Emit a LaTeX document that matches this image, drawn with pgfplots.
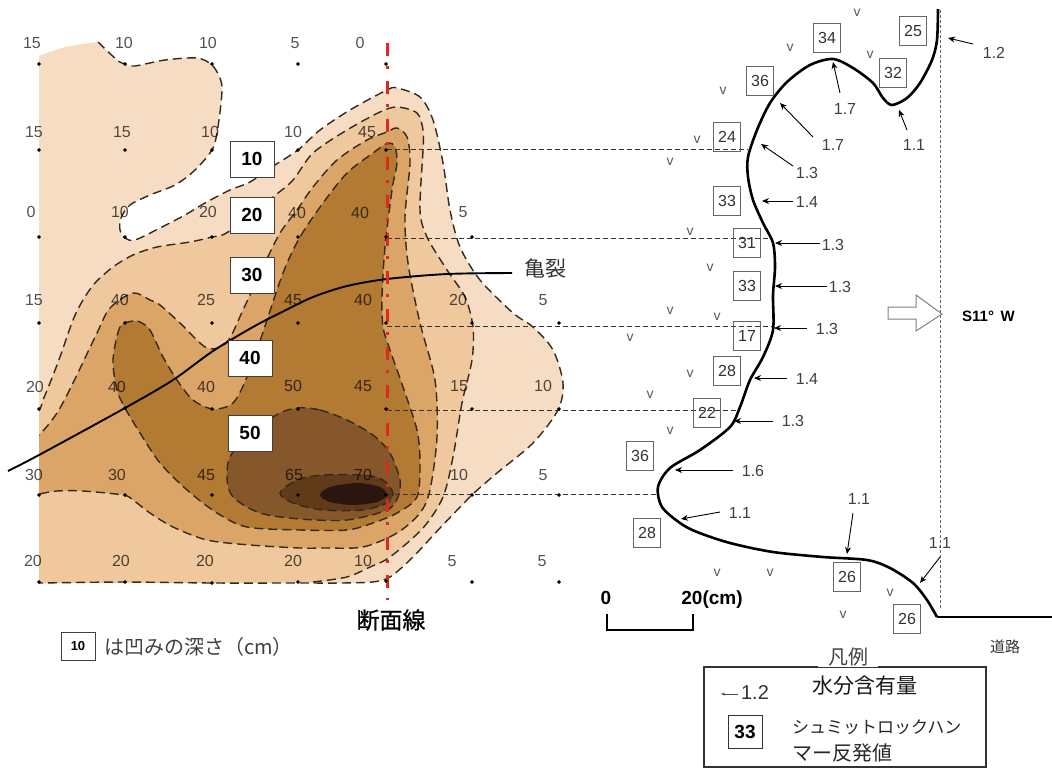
\documentclass[border=0pt]{standalone}
\usepackage{fontspec}
\usepackage{pgfplots}
\usepackage{pgfplotstable}
\pgfplotsset{compat=1.18}
\usetikzlibrary{arrows.meta}
\setmainfont{Liberation Sans}
\newfontfamily\cjk{Noto Sans CJK JP}
\newfontfamily\cjkm[FakeBold=0.7]{Noto Sans CJK JP}
\newcommand\sz[1]{\fontsize{#1}{#1}\selectfont}

\definecolor{la}{HTML}{F7DCC4}
\definecolor{lb}{HTML}{F0C89E}
\definecolor{lc}{HTML}{DBA568}
\definecolor{ld}{HTML}{B37A33}
\definecolor{le}{HTML}{85572A}
\definecolor{lf}{HTML}{5F3B1A}
\definecolor{lg}{HTML}{2B1510}
\definecolor{cdash}{HTML}{35291C}
\definecolor{redline}{HTML}{DE2A1C}

% contour 10 and contour 20, dashed part only
\pgfplotstableread{
x y
98 42
117 60
125 64
135 66
165 60
197 58
212 65
220 78
222 90
219 120
213 148
195 170
175 185
150 195
130 205
121 218
120 230
125 238
135 240
160 228
185 215
205 203
230 190
250 182
275 165
298 150
320 130
350 110
387 90
397 88
420 97
433 120
443 163
450 210
460 247
480 280
513 313
533 327
553 350
563 383
558 410
533 443
497 473
472 495
440 528
413 557
390 577
372 582
340 583
298 583
213 583
123 582
39 583
20 583
}\contourA
\pgfplotstableread{
x y
313 582
347 577
370 567
390 557
423 528
443 497
453 457
462 403
472 360
473 327
465 297
447 270
427 237
420 210
423 150
423 130
417 113
397 107
380 112
347 130
313 153
293 180
273 197
228 232
212 237
190 242
157 247
133 255
113 267
95 283
83 300
73 320
60 357
50 383
43 400
39 410
20 430
}\contourB

\newcommand\val[3]{\node[font=\sz{16}, text=black, text opacity=0.68] at (axis cs:#1,#2) {#3};}
\newcommand\boxa[3]{\node[draw=black!75, fill=white, line width=1pt, minimum width=44pt, minimum height=36pt, inner sep=0pt, font=\sz{19}\bfseries] at (axis cs:#1,#2) {#3};}
\newcommand\boxb[3]{\node[draw=black!60, line width=1pt, minimum width=27pt, minimum height=29pt, inner sep=0pt, font=\sz{16}, text=black!80] at (axis cs:#1,#2) {#3};}
\newcommand\arr[7]{% tail, head, label
  \addplot[black, line width=0.9pt, -{Stealth[length=7pt,width=6pt]}] coordinates {(#1,#2) (#3,#4)};
  \node[font=\sz{16}, text=black!75] at (axis cs:#5,#6) {#7};}

\begin{document}
\begin{tikzpicture}
\begin{axis}[
  scale only axis, width=1052pt, height=769pt,
  xmin=0, xmax=1052, ymin=0, ymax=769, y dir=reverse,
  hide axis, clip=true,
  contour/.style={cdash, line width=1.4pt, dash pattern=on 9pt off 5pt},
  sect/.style={black!80, line width=1pt, dash pattern=on 5pt off 3pt},
]
\addplot[fill=white, draw=none] coordinates {(0,0) (1052,0) (1052,769) (0,769)} --cycle;

% contour fills, outermost first
\addplot[fill=la, draw=none] coordinates {(20,583) (20,62) (39,56) (52,51) (65,47) (82,44) (98,42) (112,250) (60,583)} --cycle;
\addplot[fill=la, draw=none, smooth] table {\contourA};
\addplot[fill=lb, draw=none] coordinates {(20,430) (20,583) (213,583) (313,582) (200,480)} --cycle;
\addplot[fill=lb, draw=none, smooth] table {\contourB};
\addplot[contour, smooth] table {\contourA};
\addplot[contour, smooth] table {\contourB};
\addplot[contour, fill=lc, smooth] coordinates {
 (20,447) (39,435) (57,413) (73,383) (97,333) (110,308) (133,293) (150,300) (160,305) (180,323) (207,348) (227,342)
 (243,310) (263,267) (280,233) (297,210) (313,187) (337,160) (367,140) (387,132) (397,128) (407,137) (410,163) (405,217)
 (408,263) (420,323) (435,380) (437,437) (430,490) (420,513) (397,533) (363,547) (323,548) (300,548) (250,545) (207,540)
 (173,527) (150,513) (133,500) (123,495) (83,491) (57,491) (39,494) (20,497)};
\addplot[contour, fill=ld, smooth cycle] coordinates {
 (133,321) (120,327) (113,360) (117,390) (125,408) (140,433) (160,463) (187,490) (217,513) (247,527) (300,530) (347,530)
 (373,523) (397,513) (417,497) (420,463) (417,430) (403,387) (390,350) (383,327) (382,297) (385,247) (392,190) (397,163)
 (395,147) (388,143) (373,153) (347,173) (323,203) (300,237) (283,273) (262,335) (247,377) (233,403) (213,409) (193,400)
 (177,380) (163,357) (150,330) (140,322)};
\addplot[contour, fill=le, smooth cycle] coordinates {
 (297,408) (320,410) (347,420) (373,435) (390,453) (400,480) (398,497) (387,510) (347,520) (300,519) (260,513) (233,497)
 (227,477) (233,452) (273,417)};
\addplot[contour, fill=lf, smooth cycle] coordinates {
 (280,493) (297,480) (323,475) (363,475) (383,480) (393,493) (387,503) (363,510) (323,510) (293,503)};
\addplot[draw=none, fill=lg, smooth cycle] coordinates {
 (320,495) (330,487) (357,483) (380,487) (387,495) (377,502) (353,505) (330,502)};

% white mask left of the grid
\addplot[fill=white, draw=none] coordinates {(0,30) (38.5,30) (38.5,600) (0,600)} --cycle;

% section lines
\addplot[sect] coordinates {(387,149) (748,149)};
\addplot[sect] coordinates {(387,238) (773,238)};
\addplot[sect] coordinates {(387,326) (772,326)};
\addplot[sect] coordinates {(387,410) (737,410)};
\addplot[sect] coordinates {(387,494) (658,494)};
\addplot[black!60, line width=0.9pt, dash pattern=on 3pt off 2pt] coordinates {(940,10) (940,608)};

% crack
\addplot[black, line width=1.9pt, smooth] coordinates {
 (8,471) (39,455) (125,408) (173,380) (213,351) (253,327) (280,313) (313,297) (347,286) (387,279) (447,274) (512,273)};

% section line
\addplot[redline, line width=3pt, dash pattern=on 13pt off 10pt on 3pt off 12pt] coordinates {(387,43) (387,600)};

% grid points
\addplot[only marks, mark=*, mark size=1.6pt, black] coordinates {
 (39,64) (39,150) (39,237) (39,323) (39,409) (39,495) (39,582)
 (125,64) (125,150) (125,237) (125,323) (125,408) (125,495) (125,582)
 (212,64) (212,150) (212,237) (212,323) (212,409) (212,495) (212,583)
 (298,64) (298,150) (298,237) (298,323) (298,409) (298,495) (298,582)
 (386,64) (386,150) (386,237) (386,323) (386,409) (386,495) (386,581)
 (472,237) (472,323) (472,409) (472,495) (472,582)
 (559,323) (559,409) (559,495) (559,582)};

% depth values
\val{32}{43}{15}\val{124}{43}{10}\val{208}{43}{10}\val{295}{43}{5}\val{360}{43}{0}
\val{34}{132}{15}\val{122}{132}{15}\val{210}{132}{10}\val{293}{132}{10}\val{367}{132}{45}
\val{31}{212}{0}\val{120}{212}{10}\val{208}{212}{20}\val{297}{213}{40}\val{360}{213}{40}\val{463}{212}{5}
\val{34}{300}{15}\val{120}{300}{40}\val{206}{300}{25}\val{293}{300}{45}\val{363}{300}{40}\val{458}{300}{20}\val{543}{300}{5}
\val{35}{387}{20}\val{117}{387}{40}\val{206}{387}{40}\val{293}{386}{50}\val{363}{386}{45}\val{459}{386}{15}\val{543}{386}{10}
\val{34}{475}{30}\val{117}{475}{30}\val{206}{475}{45}\val{294}{475}{65}\val{363}{475}{70}\val{459}{475}{10}\val{543}{475}{5}
\val{33}{561}{20}\val{121}{561}{20}\val{205}{561}{20}\val{293}{561}{20}\val{363}{561}{10}\val{452}{561}{5}\val{542}{561}{5}

% contour labels
\boxa{252}{159}{10}\boxa{252}{215}{20}\boxa{252}{275}{30}\boxa{250}{358}{40}\boxa{250}{433}{50}

\node[font=\cjk\sz{21}, text=black!80] at (axis cs:545,269) {亀裂};
\node[font=\cjkm\sz{23}, text=black] at (axis cs:391,620) {断面線};
\node[draw=black!75, line width=0.8pt, minimum width=34pt, minimum height=28pt, inner sep=0pt, font=\sz{13}\bfseries] at (axis cs:78,646) {10};
\node[anchor=west, inner sep=0pt, font=\cjk\sz{20}, text=black!75] at (axis cs:104,647) {は凹みの深さ（cm）};

% profile
\addplot[black, line width=2.6pt, smooth] coordinates {
 (938,9) (937,40) (932,60) (920,83) (907,98) (892,105) (883,98) (873,83) (853,68) (833,59) (810,65) (787,82) (770,103)
 (757,130) (748,157) (748,177) (753,200) (763,223) (773,243) (775,267) (773,295) (773,330) (763,357) (750,380) (740,407)
 (730,427) (700,450) (670,468) (658,487) (662,507) (680,523) (697,532) (730,543) (773,552) (823,557) (867,560) (890,568)
 (913,583) (927,600) (937,617)};
\addplot[black, line width=2.6pt] coordinates {(937,617) (1052,617)};

% hardness boxes
\boxb{913}{31}{25}\boxb{827}{38}{34}\boxb{893}{73}{32}\boxb{760}{81}{36}\boxb{727}{137}{24}
\boxb{727}{201}{33}\boxb{747}{243}{31}\boxb{747}{286}{33}\boxb{747}{336}{17}\boxb{727}{371}{28}
\boxb{707}{413}{22}\boxb{640}{456}{36}\boxb{647}{533}{28}\boxb{847}{577}{26}\boxb{907}{619}{26}

% moisture arrows
\arr{973}{44}{948}{38}{994}{53}{1.2}
\arr{840}{93}{833}{62}{845}{109}{1.7}
\arr{907}{130}{899}{110}{914}{145}{1.1}
\arr{813}{137}{780}{103}{833}{145}{1.7}
\arr{793}{166}{761}{144}{807}{173}{1.3}
\arr{793}{201}{762}{201}{807}{202}{1.4}
\arr{820}{243}{775}{243}{833}{245}{1.3}
\arr{827}{286}{775}{286}{840}{287}{1.3}
\arr{807}{328}{774}{328}{827}{329}{1.3}
\arr{787}{378}{754}{378}{807}{379}{1.4}
\arr{773}{421}{734}{421}{793}{421}{1.3}
\arr{733}{470}{675}{470}{753}{471}{1.6}
\arr{720}{512}{681}{519}{740}{513}{1.1}
\arr{853}{513}{847}{554}{859}{499}{1.1}
\arr{940}{557}{920}{583}{940}{543}{1.1}

% wall marks
\addplot[only marks, mark=text, text mark={\sz{14}\textcolor{black!65}{v}}] coordinates {
 (857,13) (790,48) (870,55) (723,91) (697,140) (670,162) (690,232) (710,268) (670,311) (717,317) (630,338) (690,374)
 (650,395) (670,431) (717,573) (770,573) (843,615) (890,593)};

% direction
\addplot[black!50, fill=white, line width=1pt] coordinates {
 (888,307) (916,307) (916,295) (942,314) (916,331) (916,319) (888,319)} --cycle;
\node[font=\sz{15}\bfseries, anchor=west, inner sep=0pt] at (axis cs:962,316) {S11° \,W};

% scale bar
\addplot[black, line width=1.8pt] coordinates {(607,614) (607,630) (693,630) (693,614)};
\node[font=\sz{19}\bfseries] at (axis cs:606,598) {0};
\node[font=\sz{19}\bfseries] at (axis cs:712,600) {20(cm)};

\node[font=\cjk\sz{15}, text=black!80] at (axis cs:1005,647) {道路};

% legend
\addplot[black!80, line width=1.4pt] coordinates {(704,667) (986,667) (986,767) (704,767)} --cycle;
\node[fill=white, inner sep=1pt, minimum width=60pt, font=\cjk\sz{20}, text=black!75] at (axis cs:848,657) {凡例};
\node[font=\cjk\sz{21}, text=black!90] at (axis cs:865,686) {水分含有量};
\addplot[black!70, line width=0.6pt, -{Stealth[length=4pt,width=3pt]}] coordinates {(738,694) (721,694)};
\node[font=\sz{20}, text=black!80] at (axis cs:755,693) {1.2};
\node[draw=black!80, line width=1pt, minimum width=34pt, minimum height=33pt, inner sep=0pt, font=\sz{19}\bfseries] at (axis cs:745,732) {33};
\node[anchor=west, inner sep=0pt, font=\cjk\sz{17}, text=black!85] at (axis cs:792,727) {シュミットロックハン};
\node[anchor=west, inner sep=0pt, font=\cjk\sz{20}, text=black!85] at (axis cs:792,753) {マー反発値};
\end{axis}
\end{tikzpicture}
\end{document}
